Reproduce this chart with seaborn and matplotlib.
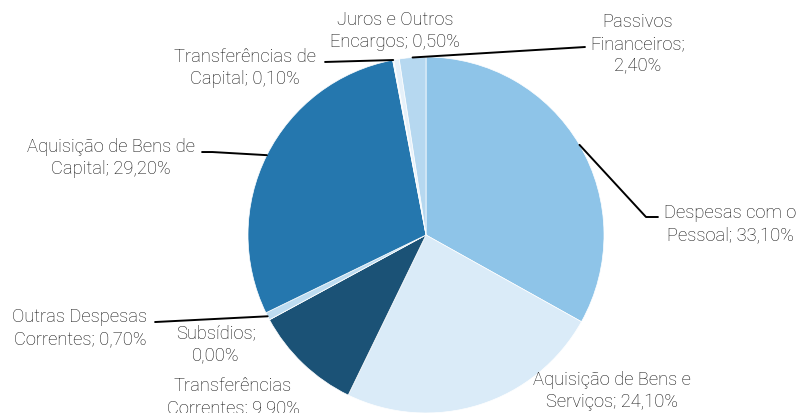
import numpy as np
import matplotlib.pyplot as plt
import seaborn as sns

categories = [
    "Despesas com o\nPessoal", "Aquisição de Bens e\nServiços", "Transferências\nCorrentes",
    "Subsídios;\n", "Outras Despesas\nCorrentes", "Aquisição de Bens de\nCapital",
    "Transferências de\nCapital", "Juros e Outros\nEncargos", "Passivos\nFinanceiros;\n",
]
values = [33.1, 24.1, 9.9, 0.0, 0.7, 29.2, 0.1, 0.5, 2.4]
value_labels = ["33,10%", "24,10%", "9.90%", "0,00%", "0,70%", "29,20%", "0,10%", "0,50%", "2,40%"]
colors = ["#8EC4E8", "#DAEBF8", "#1B5276", "#BDDCF1", "#BDDCF1", "#2577AE",
          "#DDEEF8", "#E6F1FA", "#B6D8F0"]

# label placement (data units of the pie, radius 1) and leader elbows
label_pos = [(1.708, 0.067), (1.045, -0.871), (-1.084, -0.905), (-1.180, -0.607),
             (-1.944, -0.517), (-1.770, 0.438), (-1.017, 0.944), (-0.174, 1.152),
             (1.191, 1.079)]
leaders = {
    0: [(1.236, 0.101), (1.303, 0.101)],
    4: [(-1.522, -0.489)],
    5: [(-1.20, 0.466), (-1.258, 0.466)],
    6: [(-0.567, 0.972)],
    8: [(0.893, 1.056)],
}

sns.set_theme(style="white")
plt.rcParams["font.family"] = ["Roboto", "DejaVu Sans"]

fig = plt.figure(figsize=(8, 4.14), dpi=100)
ax = fig.add_axes([0.31, 0.0, 0.445, 0.86])
wedges, _ = ax.pie(values, colors=colors, startangle=90, counterclock=False,
                   radius=1, wedgeprops=dict(edgecolor="white", linewidth=0.5))
ax.set_xlim(-1, 1)
ax.set_ylim(-1, 1)
ax.set_aspect("equal")
ax.axis("off")

for i, (name, val) in enumerate(zip(categories, value_labels)):
    if name.endswith("\n"):
        txt = name + val
    else:
        txt = name + "; " + val
    tx, ty = label_pos[i]
    ax.text(tx, ty, txt, ha="center", va="center", fontsize=13.2, color="#111111",
            fontweight="light", linespacing=1.25, clip_on=False)
    if i in leaders:
        w = wedges[i]
        mid = np.deg2rad((w.theta1 + w.theta2) / 2)
        pts = [(np.cos(mid), np.sin(mid))] + leaders[i]
        xs, ys = zip(*pts)
        ax.plot(xs, ys, color="black", lw=1.4, clip_on=False)

plt.savefig("out.png", dpi=100)
